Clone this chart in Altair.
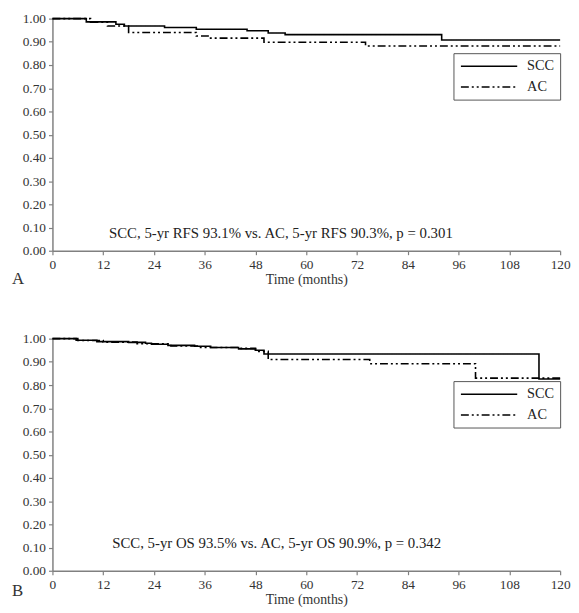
import altair as alt
import pandas as pd

# ---- data ----
groups = ["SCC", "AC"]

rfs_scc_t = [0, 8, 15, 17, 26.5, 34, 46, 51, 55, 92, 120]
rfs_scc_s = [1.0, 0.986, 0.976, 0.968, 0.962, 0.954, 0.948, 0.938, 0.931, 0.908, 0.908]
rfs_ac_t = [0, 9, 13, 18, 34, 37, 50, 74, 120]
rfs_ac_s = [1.0, 0.985, 0.968, 0.94, 0.925, 0.916, 0.898, 0.882, 0.882]

os_scc_t = [0, 5.6, 10.5, 18, 22, 23.4, 27.3, 33.6, 37.4, 44, 48, 50, 115, 120]
os_scc_s = [1.0, 0.993, 0.987, 0.984, 0.98, 0.976, 0.971, 0.967, 0.962, 0.956, 0.95, 0.934, 0.826, 0.826]
os_ac_t = [0, 6, 12, 20, 28, 35, 44, 48, 51, 75, 100, 120]
os_ac_s = [1.0, 0.992, 0.985, 0.978, 0.968, 0.962, 0.958, 0.945, 0.91, 0.892, 0.83, 0.83]

notes = ["SCC, 5-yr RFS 93.1% vs. AC, 5-yr RFS 90.3%, p = 0.301",
         "SCC, 5-yr OS 93.5% vs. AC, 5-yr OS 90.9%, p = 0.342"]
note_x = [54, 53]
note_y = [0.075, 0.12]
letters = ["A", "B"]
x_ticks = list(range(0, 121, 12))
y_ticks = [round(i * 0.1, 1) for i in range(11)]

SERIF = "Liberation Serif"
W, H = 514, 235

x_axis = alt.Axis(values=x_ticks, title="Time (months)", grid=False,
                  labelOverlap=False, labelFlush=False)
y_axis = alt.Axis(values=y_ticks, format=".2f", title=None, grid=False,
                  labelOverlap=False, labelFlush=False, tickCount=11)
x_scale = alt.Scale(domain=[0, 120], nice=False)
y_scale = alt.Scale(domain=[0, 1], nice=False)


def frame(t_scc, s_scc, t_ac, s_ac):
    a = pd.DataFrame({"time": t_scc, "surv": s_scc, "group": "SCC"})
    b = pd.DataFrame({"time": t_ac, "surv": s_ac, "group": "AC"})
    return pd.concat([a, b], ignore_index=True)


def panel(df, i, legend_y, letter_dy):
    lines = alt.Chart(df).mark_line(
        interpolate="step-after", color="black", strokeWidth=1.6
    ).encode(
        x=alt.X("time:Q", scale=x_scale, axis=x_axis),
        y=alt.Y("surv:Q", scale=y_scale, axis=y_axis),
        strokeDash=alt.StrokeDash(
            "group:N",
            scale=alt.Scale(domain=groups, range=[[1, 0], [8, 3, 2, 3, 2, 3]]),
            legend=alt.Legend(
                title=None, orient="none", legendX=406, legendY=legend_y,
                symbolType="M-1,0H9", symbolSize=130, symbolStrokeColor="black",
                symbolFillColor="transparent",
                symbolStrokeWidth=1.6, labelFont=SERIF, labelFontSize=14.5,
                labelColor="#222", labelOffset=54, strokeColor="#555",
                padding=6, rowPadding=6, fillColor="white",
            ),
        ),
        order=alt.Order("time:Q"),
    )
    note = alt.Chart(pd.DataFrame({"time": [note_x[i]], "surv": [note_y[i]], "t": [notes[i]]})).mark_text(
        font=SERIF, fontSize=15, color="#222"
    ).encode(x=alt.X("time:Q", scale=x_scale, axis=x_axis),
             y=alt.Y("surv:Q", scale=y_scale, axis=y_axis), text="t:N")
    letter = alt.Chart(pd.DataFrame({"t": [letters[i]]})).mark_text(
        font=SERIF, fontSize=17, color="#333", align="left", baseline="middle"
    ).encode(x=alt.value(-41), y=alt.value(H + letter_dy), text="t:N")
    return alt.layer(lines, note, letter).properties(width=W, height=H)


pA = panel(frame(rfs_scc_t, rfs_scc_s, rfs_ac_t, rfs_ac_s), 0, 35, 29)
pB = panel(frame(os_scc_t, os_scc_s, os_ac_t, os_ac_s), 1, 43, 21)

chart = alt.vconcat(pA, pB, spacing=45).resolve_scale(strokeDash="independent").properties(
    padding={"left": 4, "top": 0, "right": 0, "bottom": 0}
).configure_view(stroke=None).configure_axis(
    domainColor="#808080", tickColor="#808080", domainWidth=1.5, tickWidth=1.2,
    tickSize=4, labelFont=SERIF, labelFontSize=13.5, labelColor="#333",
    titleFont=SERIF, titleFontSize=14, titleFontWeight="normal", titleColor="#333",
    labelPadding=3, titlePadding=2,
)

chart.save("out.html", embed_options={"renderer": "svg", "actions": False})
